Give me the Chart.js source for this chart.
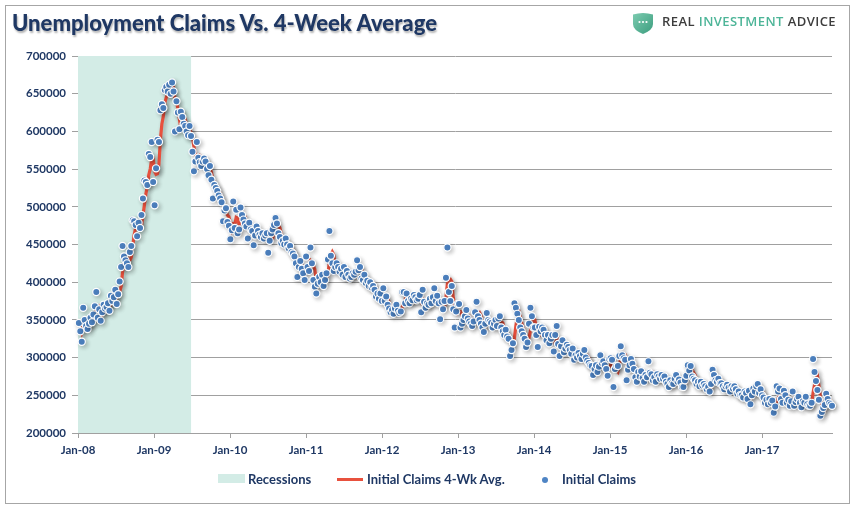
<!DOCTYPE html>
<html>
<head>
<meta charset="utf-8">
<script src="https://cdn.jsdelivr.net/npm/chart.js@4.4.0/dist/chart.umd.min.js"></script>
<style>
html, body { margin: 0; padding: 0; background: #fff; }
#wrap { position: relative; width: 854px; height: 508px; overflow: hidden; font-family: Lato, "Open Sans", sans-serif; }
#frame { position: absolute; left: 5px; top: 5px; width: 843px; height: 497px; border: 1px solid #a6a6a6; }
#c { position: absolute; left: 0; top: 0; }
#title { position: absolute; left: 12px; top: 8px; font-size: 23.5px; line-height: 28px; font-weight: 900; color: #1f3864;
         white-space: nowrap; transform-origin: 0 0; text-shadow: 1px 2px 2px rgba(0,0,0,0.3); }
#logo { position: absolute; left: 632px; top: 12px; }
#brand { position: absolute; left: 662px; top: 14px; font-family: "Open Sans", sans-serif; font-size: 12.6px; line-height: 16px;
         font-weight: 600; color: #3d3d3d; white-space: nowrap; transform-origin: 0 0; letter-spacing: 0.4px; }
#brand span { color: #4db598; }
.lg { position: absolute; font-size: 13px; line-height: 16px; font-weight: 700; color: #1f3864; white-space: nowrap; top: 471px; }
.sw { position: absolute; }
</style>
</head>
<body>
<div id="wrap">
  <canvas id="c" width="854" height="508"></canvas>
  <div id="frame"></div>
  <div id="title">Unemployment Claims Vs. 4-Week Average</div>
  <svg id="logo" width="22" height="22" viewBox="0 0 22 22">
    <defs><linearGradient id="g" x1="0" y1="0" x2="1" y2="1">
      <stop offset="0" stop-color="#7ccbb0"/><stop offset="1" stop-color="#3c9d7e"/></linearGradient></defs>
    <path d="M1,2.5 Q11,-0.5 21,2.5 L21,12 Q21,18 11,22 Q1,18 1,12 Z" fill="url(#g)"/>
    <circle cx="7.5" cy="10" r="1.1" fill="#fff"/><circle cx="11" cy="10" r="1.1" fill="#fff"/><circle cx="14.5" cy="10" r="1.1" fill="#fff"/>
  </svg>
  <div id="brand">REAL <span>INVESTMENT</span> ADVICE</div>

  <div class="sw" style="left:218px;top:474px;width:27px;height:9px;background:#d3ece6;"></div>
  <div class="lg" style="left:248px;">Recessions</div>
  <div class="sw" style="left:337px;top:478px;width:26px;height:3px;background:#e8513e;"></div>
  <div class="lg" style="left:367px;">Initial Claims 4-Wk Avg.</div>
  <div class="sw" style="left:542px;top:476.5px;width:6px;height:6px;border-radius:50%;background:#4f84c4;"></div>
  <div class="lg" style="left:562px;">Initial Claims</div>
</div>

<script>
// weekly initial claims, thousands (first week ends Jan 5 2008)
const claims2008 = [346,335,321,366,350,342,338,345,353,347,357,368,387,353,364,349,360,370,365,367,372,362,382,375,380,390,371,384,401,420,448,434,429,425,420,440,448,482,481,476,461,479,472,489,511,535,533,529,570,566,586,533];
const claims2009 = [502,551,589,586,628,636,631,655,659,653,662,650,665,653,600,640,625,603,626,619,610,607,600,595,607,594,573,547,560,586,565,559,554,560,564,560,550,542,554,536,511,529,525,521,515,511,506,481,495,498,480,475];
const claims2010 = [457,469,507,472,496,465,470,499,489,483,478,474,458,479,470,468,449,462,474,468,463,460,465,458,462,465,439,455,465,470,476,485,478,465,460,452,455,450,458,450,445,448,440,438,434,425,407,420,428,418,412,403];
const claims2011 = [434,420,415,446,425,403,394,385,398,407,400,410,395,403,412,430,468,435,425,415,420,425,420,414,418,410,420,407,415,410,405,407,412,410,414,429,416,420,405,403,410,399,402,395,400,393,395,390,381,385,378,385,375];
const claims2012 = [392,375,381,370,365,360,363,358,365,370,362,359,361,387,387,372,385,375,372,378,376,383,380,376,378,383,360,390,374,366,372,370,378,372,380,392,375,382,372,351,374,364,375,406,446,387,375,395,364,340,361,371];
const claims2013 = [371,340,345,350,355,363,352,348,345,342,348,360,374,355,350,345,340,334,345,359,350,348,346,340,345,350,342,352,355,340,335,330,337,328,325,302,310,319,372,366,358,350,340,335,330,325,314,320,345,366,355,340];
const claims2014 = [340,330,314,341,335,340,337,330,323,330,319,325,330,308,330,342,318,302,315,323,307,312,317,314,310,305,312,297,303,300,306,302,298,305,310,300,296,293,290,289,277,285,290,281,288,303,293,295,290,285,276,298];
const claims2015 = [299,297,261,285,289,289,302,315,303,299,297,270,284,290,298,292,285,274,268,281,275,282,273,268,277,274,295,280,278,270,274,268,278,275,272,277,272,275,268,265,261,270,266,265,272,277,268,271,267,261,261,270];
const claims2016 = [276,290,283,289,275,272,270,265,268,262,268,263,265,262,258,261,255,265,284,277,270,268,272,266,266,262,258,262,264,260,255,262,259,262,258,252,255,250,250,247,255,253,245,256,238,250,259,255,262,265,253,258,250];
const claims2017 = [247,240,244,238,245,240,243,227,235,262,255,259,245,240,256,250,240,244,236,242,255,236,241,245,248,240,234,242,240,248,238,236,236,240,298,281,269,257,244,223,228,233,237,252,245,240,238,236];

// 4-week average, thousands
const avg2008 = [348,342,334,342,343,345,349,344,345,346,351,356,365,366,368,363,357,361,361,366,369,367,371,373,375,382,379,381,387,394,413,426,433,434,427,429,433,448,463,472,475,474,472,475,488,502,517,527,542,550,563,564];
const avg2009 = [547,543,544,557,589,610,620,638,645,650,657,656,658,658,642,640,630,617,624,618,615,616,609,603,602,599,592,580,569,567,565,568,566,560,559,560,559,554,552,546,536,533,525,522,523,518,513,503,498,495,489,487];
const avg2010 = [478,470,477,476,486,485,476,483,481,485,487,481,473,472,470,469,467,462,463,463,467,466,464,462,461,463,456,455,456,457,467,474,477,476,472,464,458,454,454,453,451,450,446,443,440,434,426,422,420,418,420,415];
const avg2011 = [417,417,418,429,427,422,417,402,395,396,398,404,403,402,405,410,428,436,440,436,424,421,420,420,419,416,416,414,413,413,409,409,409,409,411,416,417,420,418,411,410,404,404,402,399,398,396,395,390,388,384,382,381];
const avg2012 = [383,382,381,380,373,369,365,362,362,364,364,364,363,367,374,377,383,380,376,378,375,377,379,379,379,379,374,378,377,373,376,371,372,373,375,381,380,382,380,370,370,365,366,380,398,404,404,401,380,369,365,359];
const avg2013 = [361,361,357,352,348,353,355,355,352,347,346,349,356,359,360,356,348,342,341,345,347,351,351,346,345,345,344,347,350,347,346,340,336,333,330,323,316,314,326,342,354,362,354,346,339,333,326,322,326,336,347,352];
const avg2014 = [350,341,331,331,330,333,338,336,333,330,326,324,326,321,323,328,325,323,319,315,312,314,315,313,313,312,310,306,304,303,302,303,302,303,304,303,303,300,295,292,287,285,285,283,286,291,291,295,295,291,287,287];
const avg2015 = [290,293,289,286,283,281,291,299,302,305,304,292,288,285,286,291,291,287,280,277,275,277,278,275,275,273,279,282,282,281,276,273,273,274,273,276,274,274,273,270,267,266,266,266,268,270,271,272,271,267,265,265];
const avg2016 = [267,274,280,285,284,280,277,271,269,266,266,265,265,265,262,262,259,260,266,270,274,275,272,269,268,267,263,262,262,261,260,260,259,260,260,258,257,254,252,251,251,251,250,252,248,247,251,251,257,260,259,260,257];
const avg2017 = [252,249,245,242,242,242,242,239,236,242,245,253,255,250,250,248,247,248,243,241,244,242,244,244,243,244,242,241,239,241,242,241,240,238,253,264,272,276,263,248,238,232,230,238,242,244,244,240];

const recessionSpan = [2008.0, 2009.49];
const tickYears = [2008, 2009, 2010, 2011, 2012, 2013, 2014, 2015, 2016, 2017];
const tickLabels = ['Jan-08', 'Jan-09', 'Jan-10', 'Jan-11', 'Jan-12', 'Jan-13', 'Jan-14', 'Jan-15', 'Jan-16', 'Jan-17'];

const claims = [claims2008, claims2009, claims2010, claims2011, claims2012, claims2013, claims2014, claims2015, claims2016, claims2017].flat();
const avg4 = [avg2008, avg2009, avg2010, avg2011, avg2012, avg2013, avg2014, avg2015, avg2016, avg2017].flat();

// week i ends on Jan 5 2008 + 7i days, placed in decimal years
const weekX = i => 2008 + (4 + 7 * i) / 365.25;
const claimPts = claims.map((v, i) => ({ x: weekX(i), y: v }));
const avgPts = avg4.map((v, i) => ({ x: weekX(i), y: v }));
const lastX = weekX(claims.length - 1);

const shadow = {
    id: 'shadow',
    beforeDatasetDraw(chart, args) {
        const s = chart.data.datasets[args.index].shadow;
        if (!s) return;
        const c = chart.ctx;
        c.save();
        c.shadowColor = s;
        c.shadowBlur = 4;
        c.shadowOffsetX = 2;
        c.shadowOffsetY = 2;
    },
    afterDatasetDraw(chart, args) {
        if (chart.data.datasets[args.index].shadow) chart.ctx.restore();
    }
};

const navy = '#1f3864';
const gridGray = '#a0a0a0';
const tickFont = { family: 'Lato', size: 11.5, weight: 'bold' };

new Chart(document.getElementById('c'), {
    type: 'line',
    data: {
        datasets: [
            { label: 'Initial Claims', data: claimPts, showLine: false, pointRadius: 3.6, pointBorderWidth: 1.2,
              pointBackgroundColor: '#4f84c4', pointBorderColor: '#ffffff', order: 0, shadow: 'rgba(0,0,0,0.22)', clip: false },
            { label: 'Initial Claims 4-Wk Avg.', data: avgPts, borderColor: '#e8513e', borderWidth: 3.2, pointRadius: 0,
              tension: 0, order: 1, shadow: 'rgba(0,0,0,0.32)' },
            { label: 'Recessions', data: [{ x: recessionSpan[0], y: 700 }, { x: recessionSpan[1], y: 700 }],
              fill: 'start', backgroundColor: '#d3ece6', borderWidth: 0, pointRadius: 0, order: 2 }
        ]
    },
    options: {
        responsive: false,
        animation: false,
        events: [],
        layout: { padding: { left: 0, right: 22, top: 56, bottom: 0 } },
        plugins: { legend: { display: false }, tooltip: { enabled: false } },
        scales: {
            x: {
                type: 'linear', min: 2008, max: lastX,
                afterBuildTicks: s => { s.ticks = tickYears.map(v => ({ value: v })); },
                afterFit: s => { s.height = 75; },
                ticks: { callback: (v) => tickLabels[tickYears.indexOf(v)], color: navy, font: tickFont, padding: 5, maxRotation: 0 },
                grid: { drawOnChartArea: false, drawTicks: true, tickLength: 5, color: gridGray },
                border: { color: gridGray }
            },
            y: {
                min: 200, max: 700,
                afterFit: s => { s.width = 78; },
                ticks: { stepSize: 50, callback: v => String(v * 1000), color: navy, font: tickFont, padding: 6 },
                grid: { color: gridGray, tickLength: 6 },
                border: { color: gridGray }
            }
        }
    },
    plugins: [shadow]
});

function fitWidth(id, w) {
    const el = document.getElementById(id);
    el.style.transform = 'none';
    el.style.transform = 'scaleX(' + (w / el.getBoundingClientRect().width) + ')';
}
fitWidth('title', 425);
fitWidth('brand', 174);
</script>
</body>
</html>
